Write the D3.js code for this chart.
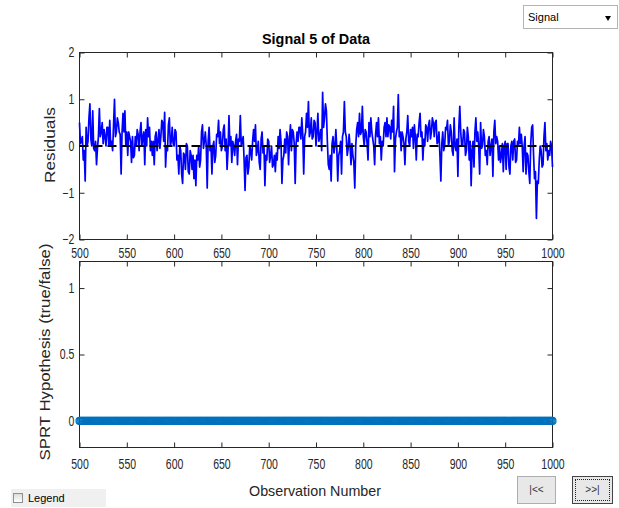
<!DOCTYPE html>
<html>
<head>
<meta charset="utf-8">
<script src="https://cdn.jsdelivr.net/npm/d3@7"></script>
<style>
body { margin: 0; background: #fff; font-family: "Liberation Sans", Arial, sans-serif; }
#fig { position: relative; width: 619px; height: 508px; overflow: hidden; background: #fff; }
#fig svg { position: absolute; left: 0; top: 0; }
.axis path { display: none; }
.axis line { stroke: #262626; }
.axis text { font-family: "Liberation Sans", Arial, sans-serif; font-size: 14px; fill: #262626; }
.ctl { position: absolute; box-sizing: border-box; font-size: 11px; color: #000; }
#signalSel { left: 523px; top: 5px; width: 95px; height: 24px; border: 1px solid #b4b4b4; background: #fff; }
#signalSel .txt { position: absolute; left: 4px; top: 5px; }
#signalSel .arrow { position: absolute; left: 81px; top: 10px; width: 0; height: 0;
  border-left: 3.5px solid transparent; border-right: 3.5px solid transparent; border-top: 5px solid #000; }
#legendBox { left: 11px; top: 489px; width: 95px; height: 18px; background: #f0f0f0; }
#legendBox .chk { position: absolute; left: 2px; top: 4px; width: 10px; height: 10px; box-sizing: border-box;
  border: 1px solid #8e8f8f; background: linear-gradient(#dcdcdc, #fff); }
#legendBox .txt { position: absolute; left: 17px; top: 3px; }
.btn { top: 476px; height: 28px; background: #e8e8e8; border: 1px solid #adadad; text-align: center;
  line-height: 26px; font-size: 10px; color: #333; }
#firstBtn { left: 517px; width: 39px; }
#lastBtn { left: 572px; width: 41px; border-color: #444; }
#lastBtn .focus { position: absolute; left: 2px; top: 2px; right: 2px; bottom: 2px; border: 1px dotted #222; }
</style>
</head>
<body>
<div id="fig">
  <div class="ctl" id="signalSel"><span class="txt">Signal</span><span class="arrow"></span></div>
  <div class="ctl" id="legendBox"><span class="chk"></span><span class="txt">Legend</span></div>
  <div class="ctl btn" id="firstBtn">|&lt;&lt;</div>
  <div class="ctl btn" id="lastBtn"><span class="focus"></span>&gt;&gt;|</div>
</div>
<script>
const obsStart = 500;
const obsEnd = 1000;
const xTicks = [500, 550, 600, 650, 700, 750, 800, 850, 900, 950, 1000];
const residualTicks = [-2, -1, 0, 1, 2];
const hypothesisTicks = [0, 0.5, 1];

const residuals = [
  0.5, 0.05, 0.1, 0.2, -0.3, -0.1, -0.75, 0.4, 0.0, 0.1, 0.6, 0.9, 0.15, 0.0,
  0.75, -0.05, -0.1, 0.1, -0.4, -0.05, 0.2, 0.8, 0.2, 0.3, 0.5, 0.05, 0.35, 0.2,
  0.0, 0.4, 0.4, 0.0, 0.55, 0.0, 0.1, -0.1, 0.45, 1.0, 0.2, 0.3, 0.6, 0.5,
  0.3, 0.25, -0.6, 0.3, 0.7, 0.3, 0.75, 0.0, 0.3, -0.2, 0.3, 0.2, 0.1, -0.35,
  0.2, -0.25, -0.2, 0.2, 0.0, 0.35, 0.25, -0.1, 0.3, 0.5, 0.0, 0.2, 0.3, -0.4,
  0.35, 0.0, 0.6, 0.2, 0.4, -0.1, 0.1, -0.2, 0.1, -0.4, 0.2, 0.3, -0.1, 0.1,
  0.35, -0.05, 0.2, 0.55, 0.5, 0.1, 0.72, -0.45, 0.0, -0.1, 0.45, 0.6, 0.0, 0.1,
  0.4, 0.05, 0.0, 0.35, 0.3, -0.3, -0.2, -0.6, 0.0, -0.1, -0.6, -0.8, -0.15, -0.2,
  -0.5, 0.05, 0.0, -0.55, -0.6, -0.1, -0.2, -0.5, -0.2, -0.7, -0.3, -0.85, -0.2, -0.3,
  0.0, -0.45, -0.3, 0.3, 0.45, -0.05, 0.1, 0.3, 0.0, -0.9, 0.1, 0.4, -0.1, 0.0,
  -0.6, 0.0, 0.1, -0.35, -0.2, 0.25, 0.2, 0.55, 0.05, 0.3, -0.1, 0.0, 0.35, 0.45,
  -0.1, 0.15, -0.5, -0.1, 0.65, 0.0, 0.2, -0.35, 0.1, 0.0, -0.2, 0.1, 0.25, -0.4,
  0.15, 0.1, 0.65, 0.0, 0.1, 0.2, -0.3, -0.95, -0.25, -0.2, -0.6, -0.45, 0.0, -0.1,
  -0.3, 0.1, 0.35, 0.1, 0.45, -0.2, -0.1, 0.1, -0.35, -0.5, 0.15, 0.3, -0.15, 0.0,
  -0.85, -0.2, -0.3, 0.15, 0.1, -0.35, -0.2, 0.0, -0.45, -0.4, -0.2, -0.55, -0.15, -0.3,
  0.2, -0.05, 0.35, 0.1, -0.8, -0.3, -0.2, 0.15, -0.15, 0.3, 0.2, -0.4, 0.15, 0.45,
  -0.1, 0.35, 0.3, 0.05, -0.8, 0.05, 0.3, 0.1, 0.4, 0.4, 0.15, 0.6, 0.25, -0.6,
  0.2, 0.3, 0.7, 0.4, 0.95, 0.2, 0.3, 0.6, 0.15, 0.2, 0.55, 0.5,
  // 750 ->
  0.0, 0.3, 0.7, 0.1, 0.2, 0.35, -0.1, 1.15, 0.4, 0.6, 0.9, 0.75, 0.1, -0.4,
  -0.5, -0.2, -0.75, 0.05, 0.2, -0.15, 0.0, 0.35, -0.05, -0.75, -0.2, -0.1, 0.1, -0.6,
  0.2, 0.3, 0.95, 0.3, 0.2, -0.2, -0.05, 0.25, 0.0, -0.4, 0.05, -0.2, -0.35, -0.9,
  0.0, 0.35, 0.5, 0.2, 0.7, 0.25, 0.3, 0.85, 0.2, 0.0, 0.35, 0.3, 0.05, -0.3,
  0.5, 0.2, 0.6, 0.3, 0.15, 0.0, -0.4, 0.25, 0.5, 0.2, 0.6, 0.05, 0.2,
  -0.3, 0.1, 0.0, 0.4, 0.5, 0.2, 0.6, 0.2, 0.45, 0.4, 0.15, 0.55, 0.3, 0.85,
  -0.55, 0.15, 0.3, 0.4, 1.1, 0.2, 0.3, -0.1, 0.3, 0.2, 0.05, -0.4, 0.15, 0.3,
  0.65, 0.1, 0.0, 0.35, 0.2, 0.4, -0.05, 0.45, 0.2, -0.3, 0.25, 0.2, 0.5, 0.7,
  0.2, 0.3, -0.3, 0.15, 0.0, 0.45, 0.4, 0.1, 0.45, 0.55, 0.15, 0.3, 0.6, 0.5,
  0.2, 0.5, 0.55, 0.05, 0.1, 0.3, -0.2, -0.75, 0.05, 0.3, -0.1, 0.0, 0.4, 0.35,
  0.55, 0.0, 0.1, 0.45, 0.3, -0.1, -0.2, 0.6, 0.0, -0.1, 0.15, -0.65, 0.4, 0.85,
  0.3, 0.0, 0.0, 0.35, 0.3, -0.2, -0.1, 0.4, 0.2, -0.3, 0.1, -0.85, -0.1, 0.1,
  -0.45, 0.3, 0.6, 0.1, 0.3, 0.0, -0.6, 0.5, -0.05, 0.0, 0.35, 0.2, -0.2, -0.1,
  -0.4, 0.1, 0.2, -0.2, 0.0, 0.15, -0.65, 0.3, 0.55, 0.05, 0.2, 0.1, -0.3,
  0.0, -0.35, -0.2, 0.05, -0.55, 0.0, 0.1, -0.5, 0.05, 0.05, -0.45, -0.6, 0.0, 0.1,
  -0.3, 0.1, 0.15, -0.35, -0.3, 0.1, 0.0, 0.4, 0.05, 0.25, 0.0, -0.55, 0.0, 0.2,
  -0.6, -0.15, -0.2, -0.55, -0.8, 0.05, 0.4, 0.45, -0.2, -0.7, -0.55, -1.55, -0.75, -0.8,
  -0.3, 0.0, -0.1, -0.45, -0.4, 0.2, 0.5, -0.1, 0.05, -0.3, -0.1, -0.2, 0.1, 0.0,
  -0.45
];

const observations = d3.range(obsStart, obsEnd + 1);
// SPRT hypothesis is false (0) at every observation
const sprtHypothesis = Array(observations.length).fill(0);

const width = 619;
const height = 508;

const svg = d3.select("#fig").insert("svg", ":first-child")
    .attr("width", width)
    .attr("height", height);

const x = d3.scaleLinear().domain([obsStart, obsEnd]).range([79.5, 552.5]);
const yRes = d3.scaleLinear().domain([-2, 2]).range([239.5, 52.5]);
const yHyp = d3.scaleLinear().domain([-0.2, 1.2]).range([447.5, 261.5]);

function drawFrame(y, yTicks, xPad) {
    const [y0, y1] = y.range();
    const g = svg.append("g");

    g.append("g").attr("class", "axis")
        .attr("transform", `translate(0,${y0})`)
        .call(d3.axisBottom(x).tickValues(xTicks).tickSize(-5).tickPadding(xPad).tickFormat(d3.format("d")))
        .selectAll("text").attr("transform", "scale(0.75,1)");

    g.append("g").attr("class", "axis")
        .attr("transform", `translate(0,${y1})`)
        .call(d3.axisTop(x).tickValues(xTicks).tickSize(-5).tickFormat(""));

    g.append("g").attr("class", "axis")
        .attr("transform", `translate(${x.range()[0]},0)`)
        .call(d3.axisLeft(y).tickValues(yTicks).tickSize(-5).tickPadding(7).tickFormat(d3.format("")))
        .selectAll("text").attr("transform", "scale(0.75,1)");

    g.append("g").attr("class", "axis")
        .attr("transform", `translate(${x.range()[1]},0)`)
        .call(d3.axisRight(y).tickValues(yTicks).tickSize(-5).tickFormat(""));

    g.append("rect")
        .attr("x", x.range()[0])
        .attr("y", y1)
        .attr("width", x.range()[1] - x.range()[0])
        .attr("height", y0 - y1)
        .attr("fill", "none")
        .attr("stroke", "#262626")
        .attr("stroke-width", 1);
}

// top: residuals
drawFrame(yRes, residualTicks, 9);

svg.append("path")
    .datum(residuals)
    .attr("fill", "none")
    .attr("stroke", "#0000ff")
    .attr("stroke-width", 1.7)
    .attr("stroke-linejoin", "round")
    .attr("d", d3.line().x((d, i) => x(observations[i])).y(d => yRes(d)));

svg.append("path")
    .datum([obsStart, obsEnd])
    .attr("fill", "none")
    .attr("stroke", "#000")
    .attr("stroke-width", 2)
    .attr("stroke-dasharray", "9,5")
    .attr("d", d3.line().x(d => x(d)).y(() => yRes(0)));

// bottom: SPRT hypothesis
drawFrame(yHyp, hypothesisTicks, 12);

svg.append("g")
    .selectAll("circle")
    .data(sprtHypothesis)
    .enter().append("circle")
    .attr("cx", (d, i) => x(observations[i]))
    .attr("cy", d => yHyp(d))
    .attr("r", 3.5)
    .attr("fill", "none")
    .attr("stroke", "#0072bd")
    .attr("stroke-width", 1.2);

// titles and labels
svg.append("text")
    .attr("x", 316)
    .attr("y", 44)
    .attr("text-anchor", "middle")
    .attr("textLength", 108)
    .attr("lengthAdjust", "spacingAndGlyphs")
    .style("font-size", "14px")
    .style("font-weight", "bold")
    .style("fill", "#000")
    .text("Signal 5 of Data");

svg.append("text")
    .attr("transform", "translate(55,145) rotate(-90)")
    .attr("text-anchor", "middle")
    .attr("textLength", 76)
    .attr("lengthAdjust", "spacingAndGlyphs")
    .style("font-size", "15px")
    .style("fill", "#262626")
    .text("Residuals");

svg.append("text")
    .attr("transform", "translate(49.5,352) rotate(-90)")
    .attr("text-anchor", "middle")
    .attr("textLength", 217)
    .attr("lengthAdjust", "spacingAndGlyphs")
    .style("font-size", "15px")
    .style("fill", "#262626")
    .text("SPRT Hypothesis (true/false)");

svg.append("text")
    .attr("x", 315)
    .attr("y", 496)
    .attr("text-anchor", "middle")
    .attr("textLength", 132)
    .attr("lengthAdjust", "spacingAndGlyphs")
    .style("font-size", "15px")
    .style("fill", "#262626")
    .text("Observation Number");
</script>
</body>
</html>
